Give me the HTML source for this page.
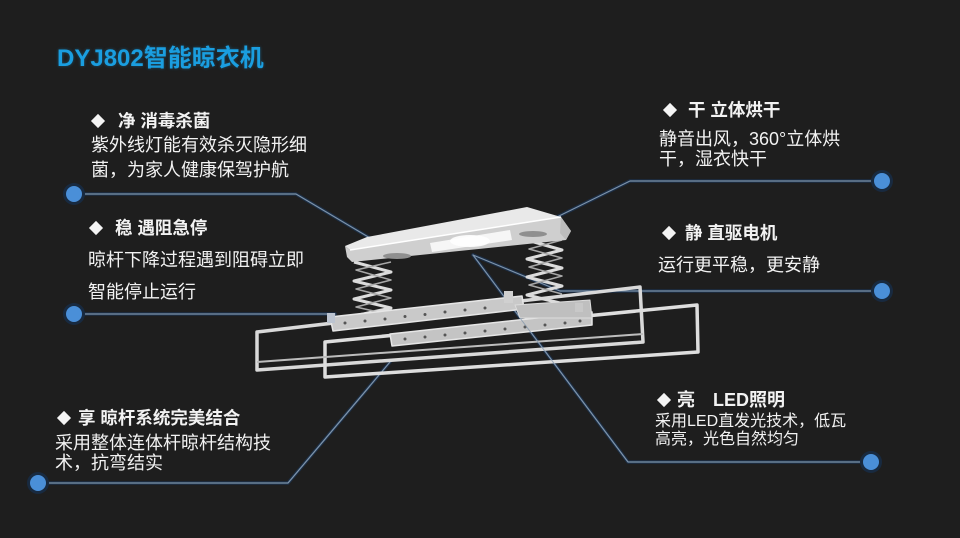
<!DOCTYPE html>
<html><head><meta charset="utf-8">
<style>
html,body{margin:0;padding:0;}
body{width:960px;height:538px;background:#1e1e1e;position:relative;overflow:hidden;font-family:"Liberation Sans","Noto Sans CJK SC",sans-serif;color:#f2f2f2;}
.t{position:absolute;white-space:nowrap;}
.title{left:57px;top:45px;font-size:24px;line-height:28px;font-weight:bold;color:#1a9ee0;text-shadow:0 0 3px rgba(26,158,224,0.4);}
.h{font-size:17.5px;font-weight:bold;line-height:22px;}
.b{font-size:18px;line-height:22px;}
.d{position:absolute;width:10px;height:10px;background:#f4f4f4;transform:rotate(45deg);}
svg{position:absolute;left:0;top:0;}
</style></head><body>
<svg width="960" height="538" viewBox="0 0 960 538">
  <g fill="none" stroke-linecap="round" stroke-linejoin="round">
    <g stroke="#1c3350" stroke-width="3.5" opacity="0.8">
      <polyline points="74,194 296,194 370,238"/>
      <polyline points="74,314 335,314"/>
      <polyline points="38,483 288,483 390,362"/>
      <polyline points="882,181 630,181 557,217"/>
      <polyline points="882,291 560,291 473,255"/>
      <polyline points="871,462 628,462 473,255"/>
    </g>
    <g stroke="#7d93aa" stroke-width="1.2">
      <polyline points="74,194 296,194 370,238"/>
      <polyline points="74,314 335,314"/>
      <polyline points="38,483 288,483 390,362"/>
      <polyline points="882,181 630,181 557,217"/>
      <polyline points="882,291 560,291 473,255"/>
      <polyline points="871,462 628,462 473,255"/>
    </g>
  </g>
  <g stroke-linejoin="round">
    <g fill="none" stroke="#dcdcdc" stroke-width="3">
      <polyline points="354,262 391,272 354,281 391,290 354,299 391,308 354,316"/>
      <polyline points="391,262 356,270 391,280 356,289 391,298 356,307 391,315" stroke="#a8a8a8" stroke-width="1.5"/>
    </g>
    <g fill="none" stroke="#dcdcdc" stroke-width="3">
      <polyline points="527,240 562,250 527,259 562,268 527,277 562,286 527,295 560,303"/>
      <polyline points="562,240 529,249 562,258 529,267 562,276 529,285 562,294" stroke="#a8a8a8" stroke-width="1.5"/>
    </g>
    <polygon points="345,246 367,237 527,207 561,217 350,250" fill="#e9e9e9"/>
    <polygon points="345,246 350,250 561,217 571,231 566,240 352,262 347,257" fill="#cfcfcf"/>
    <polygon points="561,217 571,231 566,240 560,233" fill="#bdbdbd"/>
    <polygon points="430,243 510,230 512,240 432,252" fill="#f6f6f6"/>
    <ellipse cx="470" cy="241" rx="20" ry="6" fill="#ffffff" opacity="0.9"/>
    <ellipse cx="397" cy="256" rx="14" ry="3" fill="#8f8f8f"/>
    <ellipse cx="533" cy="234" rx="14" ry="3" fill="#8f8f8f"/>
    <polyline points="350,250 561,217" fill="none" stroke="#ffffff" stroke-width="1.5"/>
    <polygon points="257,332 640,287 643,342 257,370" fill="none" stroke="#d9d9d9" stroke-width="3.5"/>
    <polygon points="325,342 697,305 698,352 325,377" fill="none" stroke="#dedede" stroke-width="3.5"/>
    <polyline points="257,362 643,334" fill="none" stroke="#bdbdbd" stroke-width="2"/>
    <polygon points="330,317 522,296 524,309 333,331" fill="#c9c9c9" stroke="#e6e6e6" stroke-width="1.5"/>
    <polygon points="390,334 592,312 592,325 392,346" fill="#c4c4c4" stroke="#e6e6e6" stroke-width="1.5"/>
    <polygon points="515,305 590,300 592,318 520,318" fill="#bfbfbf" stroke="#dcdcdc" stroke-width="1"/>
    <g fill="#555">
      <circle cx="345" cy="323" r="1.5"/><circle cx="365" cy="321" r="1.5"/><circle cx="385" cy="319" r="1.5"/><circle cx="405" cy="316.5" r="1.5"/><circle cx="425" cy="314.5" r="1.5"/><circle cx="445" cy="312" r="1.5"/><circle cx="465" cy="310" r="1.5"/><circle cx="485" cy="308" r="1.5"/>
      <circle cx="405" cy="339" r="1.5"/><circle cx="425" cy="337" r="1.5"/><circle cx="445" cy="335" r="1.5"/><circle cx="465" cy="333" r="1.5"/><circle cx="485" cy="331" r="1.5"/><circle cx="505" cy="329" r="1.5"/><circle cx="525" cy="327" r="1.5"/><circle cx="545" cy="325" r="1.5"/><circle cx="565" cy="323" r="1.5"/><circle cx="580" cy="321" r="1.5"/>
    </g>
    <rect x="504" y="291" width="9" height="12" fill="#d0d0d0"/>
    <rect x="327" y="313" width="8" height="10" fill="#bcc4d0"/>
    <rect x="575" y="303" width="8" height="9" fill="#c8c8c8"/>
  </g>
  <polyline points="628,462 520,318" fill="none" stroke="#7d93aa" stroke-width="1" opacity="0.7"/>
  <polyline points="288,483 370,386" fill="none" stroke="#7d93aa" stroke-width="1" opacity="0.7"/>
  <g>
    <circle cx="74" cy="194" r="11" fill="#182a40"/><circle cx="74" cy="194" r="8" fill="#4a8fd8"/>
    <circle cx="74" cy="314" r="11" fill="#182a40"/><circle cx="74" cy="314" r="8" fill="#4a8fd8"/>
    <circle cx="38" cy="483" r="11" fill="#182a40"/><circle cx="38" cy="483" r="8" fill="#4a8fd8"/>
    <circle cx="882" cy="181" r="11" fill="#182a40"/><circle cx="882" cy="181" r="8" fill="#4a8fd8"/>
    <circle cx="882" cy="291" r="11" fill="#182a40"/><circle cx="882" cy="291" r="8" fill="#4a8fd8"/>
    <circle cx="871" cy="462" r="11" fill="#182a40"/><circle cx="871" cy="462" r="8" fill="#4a8fd8"/>
  </g>
</svg>

<div class="t title">DYJ802智能晾衣机</div>

<div class="d" style="left:93px;top:116px;"></div>
<div class="t h" style="left:118px;top:110px;">净 消毒杀菌</div>
<div class="t b" style="left:91px;top:134px;">紫外线灯能有效杀灭隐形细</div>
<div class="t b" style="left:91px;top:159px;">菌，为家人健康保驾护航</div>

<div class="d" style="left:91px;top:223px;"></div>
<div class="t h" style="left:115px;top:217px;">稳 遇阻急停</div>
<div class="t b" style="left:88px;top:249px;">晾杆下降过程遇到阻碍立即</div>
<div class="t b" style="left:88px;top:281px;">智能停止运行</div>

<div class="d" style="left:59px;top:413px;"></div>
<div class="t h" style="left:78px;top:407px;">享 晾杆系统完美结合</div>
<div class="t b" style="left:55px;top:432px;">采用整体连体杆晾杆结构技</div>
<div class="t b" style="left:55px;top:452px;">术，抗弯结实</div>

<div class="d" style="left:665px;top:105px;"></div>
<div class="t h" style="left:688px;top:99px;">干 立体烘干</div>
<div class="t b" style="left:659px;top:128px;font-size:18px;">静音出风，360°立体烘</div>
<div class="t b" style="left:659px;top:148px;font-size:18px;">干，湿衣快干</div>

<div class="d" style="left:664px;top:228px;"></div>
<div class="t h" style="left:685px;top:222px;">静 直驱电机</div>
<div class="t b" style="left:658px;top:254px;">运行更平稳，更安静</div>

<div class="d" style="left:659px;top:395px;"></div>
<div class="t h" style="left:677px;top:389px;font-size:18px;">亮</div>
<div class="t h" style="left:713px;top:389px;font-size:18px;">LED照明</div>
<div class="t b" style="left:655px;top:411px;font-size:16px;line-height:22px;">采用LED直发光技术，低瓦</div>
<div class="t b" style="left:655px;top:429px;font-size:16px;line-height:22px;">高亮，光色自然均匀</div>
</body></html>
